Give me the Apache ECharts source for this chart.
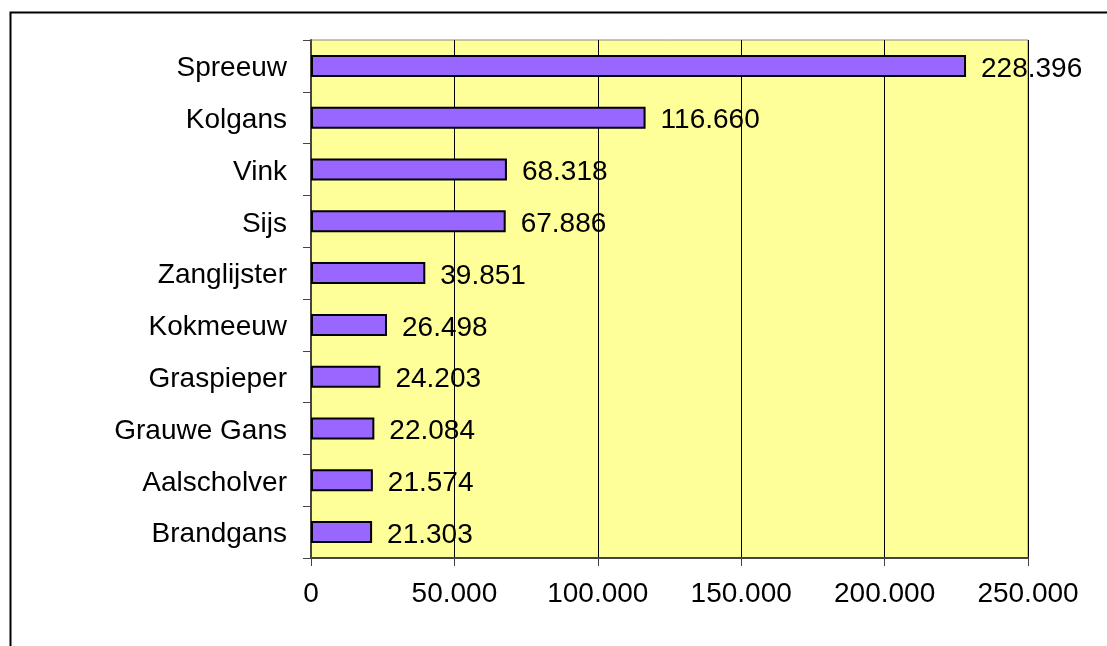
<!DOCTYPE html>
<html>
<head>
<meta charset="utf-8">
<script src="https://cdn.jsdelivr.net/npm/echarts@6/dist/echarts.min.js"></script>
<style>html,body{margin:0;padding:0;background:#fff}#c{width:1107px;height:646px}</style>
</head>
<body>
<div id="c"></div>
<script>
const categories = ["Spreeuw","Kolgans","Vink","Sijs","Zanglijster","Kokmeeuw","Graspieper","Grauwe Gans","Aalscholver","Brandgans"];
const values = [228396,116660,68318,67886,39851,26498,24203,22084,21574,21303];
const xTicks = [0,50000,100000,150000,200000,250000];

function fmt(v){ return v===0 ? "0" : String(v).replace(/\B(?=(\d{3})+(?!\d))/g, "."); }

const chart = echarts.init(document.getElementById('c'));
chart.setOption({
  animation:false,
  textStyle:{fontFamily:'Liberation Sans, Arial, sans-serif'},
  graphic:[{type:'rect',shape:{x:10.5,y:12.5,width:1300,height:800},style:{fill:null,stroke:'#000',lineWidth:2},z:-10}],
  grid:{left:311,right:79,top:40,bottom:88,show:true,backgroundColor:'#FFFF99',borderColor:'#888',borderWidth:1},
  xAxis:{type:'value',min:xTicks[0],max:xTicks[xTicks.length-1],interval:50000,
    axisLine:{show:true,lineStyle:{color:'#444',width:2}},
    axisTick:{show:true,length:8,lineStyle:{color:'#444'}},
    axisLabel:{fontSize:28,color:'#000',margin:22,formatter:fmt},
    splitLine:{show:true,lineStyle:{color:'#000',width:1}}},
  yAxis:{type:'category',data:categories,inverse:true,
    axisLine:{show:true,lineStyle:{color:'#444',width:2}},
    axisTick:{show:true,length:8,lineStyle:{color:'#444'}},
    axisLabel:{fontSize:28,color:'#000',margin:24,formatter:v=>'{a|'+v+'}',
      rich:{a:{fontSize:28,color:'#000',fontFamily:'Liberation Sans, Arial, sans-serif',padding:[5,0,0,0]}}}},
  series:[{type:'bar',data:values,barWidth:22,
    itemStyle:{color:'#9966FF',borderColor:'#000',borderWidth:2},
    label:{show:true,position:'right',distance:15,fontSize:28,color:'#000',offset:[0,3],formatter:p=>fmt(p.value)}}]
});
</script>
</body>
</html>
